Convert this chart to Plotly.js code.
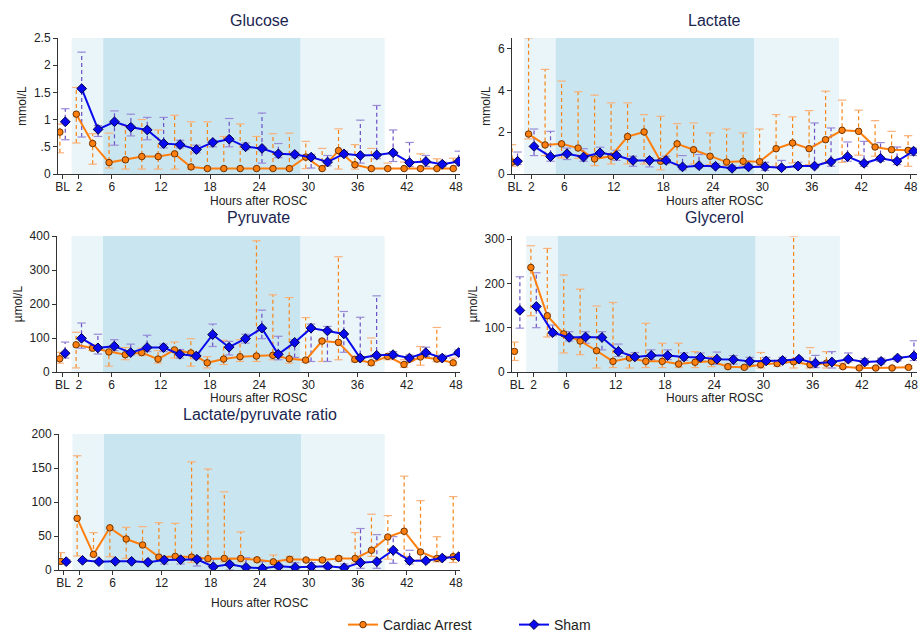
<!DOCTYPE html>
<html><head><meta charset="utf-8">
<script src="https://cdn.plot.ly/plotly-3.0.1.min.js"></script>
<style>html,body{margin:0;padding:0;background:#fff}#chart{width:919px;height:632px}</style>
</head><body><div id="chart"></div>
<script>
// hour 0 = baseline (BL)
const hours = [0,2,4,6,8,10,12,14,16,18,20,22,24,26,28,30,32,34,36,38,40,42,44,46,48];
const tickVals = [0,2,6,12,18,24,30,36,42,48];
const tickText = ["BL","2","6","12","18","24","30","36","42","48"];
const xAxisTitle = 'Hours after ROSC';
const phaseEdges = [1.1, 4.95, 29.05, 39.3];

const glucoseCA   = [0.77,1.10,0.56,0.21,0.26,0.32,0.32,0.37,0.13,0.10,0.10,0.10,0.10,0.10,0.10,0.31,0.10,0.43,0.17,0.10,0.10,0.10,0.10,0.10,0.10];
const glucoseCAHi = [0.92,1.59,0.74,0.75,0.89,1.00,0.81,1.08,0.96,0.96,0.69,0.92,0.69,0.74,0.75,0.60,0.47,0.83,0.54,0.47,0.20,0.22,0.37,0.28,0.29];
const glucoseCALo = [0.39,0.57,0.18,0.11,0.09,0.09,0.09,0.09,0.09,0.09,0.09,0.09,0.09,0.09,0.09,0.10,0.09,0.09,0.09,0.09,0.09,0.09,0.09,0.09,0.09];
const glucoseSh   = [0.96,1.57,0.82,0.96,0.86,0.81,0.56,0.54,0.45,0.58,0.64,0.50,0.47,0.37,0.36,0.31,0.22,0.37,0.34,0.35,0.39,0.21,0.23,0.18,0.23];
const glucoseShHi = [1.20,2.24,0.89,1.16,1.10,1.04,1.04,0.62,0.53,0.62,1.02,0.57,1.12,0.56,0.40,0.36,0.34,0.42,0.99,1.26,0.81,0.58,0.34,0.22,0.42];
const glucoseShLo = [0.63,0.68,0.69,0.53,0.70,0.63,0.48,0.48,0.39,0.50,0.50,0.45,0.20,0.30,0.30,0.11,0.15,0.32,0.20,0.28,0.23,0.14,0.14,0.14,0.15];

const lactateCA   = [0.57,1.91,1.39,1.44,1.24,0.72,0.85,1.79,2.01,0.61,1.44,1.16,0.85,0.57,0.61,0.59,1.21,1.48,1.21,1.64,2.09,2.04,1.29,1.16,1.13];
const lactateCAHi = [1.40,6.50,5.00,4.44,3.93,3.77,3.40,3.40,2.84,2.76,2.41,2.44,1.96,2.15,1.96,2.15,2.84,2.73,3.03,3.96,3.53,3.05,2.55,2.04,1.83];
const lactateCALo = [0.37,1.68,0.88,0.77,0.75,0.40,0.48,0.48,0.48,0.20,0.45,0.48,0.45,0.40,0.40,0.40,0.37,0.53,0.45,0.53,0.56,0.90,0.85,0.69,0.37];
const lactateSh   = [0.61,1.32,0.83,0.97,0.81,1.01,0.88,0.65,0.65,0.65,0.34,0.40,0.37,0.27,0.34,0.35,0.30,0.38,0.38,0.59,0.83,0.51,0.75,0.61,1.09];
const lactateShHi = [1.05,2.15,2.04,1.24,1.21,1.28,1.13,0.85,0.77,0.85,0.88,0.93,0.50,0.40,0.45,0.56,0.65,0.56,2.44,2.20,1.53,1.56,1.50,1.29,1.24];
const lactateShLo = [0.45,0.88,0.61,0.69,0.61,0.85,0.65,0.37,0.34,0.50,0.20,0.30,0.30,0.20,0.27,0.17,0.22,0.30,0.30,0.37,0.61,0.37,0.60,0.45,0.88];

const pyruvateCA   = [39,80,70,59,51,57,38,65,56,27,38,45,47,49,39,35,91,87,37,27,46,22,44,38,27];
const pyruvateCAHi = [58,117,80,75,72,70,63,88,98,45,93,95,386,227,219,160,95,339,46,100,52,36,75,131,41];
const pyruvateCALo = [26,12,63,17,36,48,26,41,17,12,22,31,31,36,26,28,31,36,30,20,36,14,20,30,20];
const pyruvateSh   = [55,99,71,76,57,72,72,52,47,110,73,98,129,52,87,129,121,112,41,49,51,41,57,41,57];
const pyruvateShHi = [88,144,111,95,82,108,82,66,55,141,90,111,182,105,95,141,134,178,161,224,60,50,73,50,65];
const pyruvateShLo = [41,70,53,63,50,60,60,41,39,75,50,85,98,36,43,31,31,58,31,41,43,31,46,31,48];

const glycerolCA   = [46.5,236,127,86,70,48,24,31.5,24,24,18,22,24,12,10.5,16.5,19,23,16.5,20,12,9,9,9,10.5];
const glycerolCAHi = [67.5,285,279,219,187,149,157,40,110,65,65,46,35,18,14,44,26,307,55,46,20,12,12,12,14];
const glycerolCALo = [26,127,79,43,39,9,10,9,10,10,10,10,12,8,8,9,13,9,9,9,8,7,7,7,8];
const glycerolSh   = [139,148,89,78,79,78,46.5,34,37.5,37,34,33,29,28,24,25,26,29,20,22.5,29,22.5,24,31.5,36];
const glycerolShHi = [215,224,106,91,91,91,63,44,50,50,43,43,45,37,33,33,33,33,37.5,46,43,30,31,35,70.5];
const glycerolShLo = [99,100,82,70,65,50,35,28,28,28,26,25,17,18,17,18,20,20,10,9,23,16,18,25,26];

const ratioCA   = [12.7,76,23,62,45.6,36.8,19,20,19,16.7,17,17,15,12,15.7,14.7,14.7,17,17,29,48.5,57,26.5,17,19.6];
const ratioCAHi = [25.5,168,55,62,62.7,63.7,69.6,68.6,159,148.5,115,56,18,22,20,16,18,20,55,82,80,138,102,49,108];
const ratioCALo = [9,20.6,20.6,19.6,17,12,14.7,15,11,12,12,12,12,9,12,12,12,13,10,20,16,20,15,12,11];
const ratioSh   = [12.3,14.2,12.3,12.7,12.7,11.3,14.7,15.2,15.7,4.9,8.3,3.9,2.5,5.4,3.9,4.9,5.4,3.4,10.8,12.3,29,13.7,13.7,17.6,19.6];
const ratioShHi = [15,16,14,14,14,13,18,19.6,19.6,15.7,10,18,12.3,7,10.8,10.8,7,8.8,61,52,49,29,15,20.6,22];
const ratioShLo = [10,12,10,11,11,10,8.8,8.8,5.9,2.5,0,1,0.5,2,1,1,2,1,2.5,2.5,9.8,8.8,11,15,17];

const W = 919, H = 632;
const ORANGE = '#ff7f0e', ORANGE_EDGE = '#6e3300', ORANGE_ERR = '#f7861a', ORANGE_CAP = '#f9b27c';
const BLUE = '#0a0aee', BLUE_EDGE = '#00004a', BLUE_ERR = '#6b4fc4', BLUE_CAP = '#9a8bd8';
const OFF = 0.33;

const panels = [
  {title:'Glucose', px:[58,460], py:[38,174], xr:[-0.56,48.49], yr:[0,2.5], ytv:[0,0.5,1,1.5,2,2.5], ytt:['0','.5','1','1.5','2','2.5'], yt:'mmol/L', ty:21, xty:201,
   ca:glucoseCA, caHi:glucoseCAHi, caLo:glucoseCALo, sh:glucoseSh, shHi:glucoseShHi, shLo:glucoseShLo},
  {title:'Lactate', px:[512,917], py:[38,174], xr:[-0.34,48.75], yr:[0,6.5], ytv:[0,2,4,6], ytt:['0','2','4','6'], yt:'mmol/L', ty:21, xty:201,
   ca:lactateCA, caHi:lactateCAHi, caLo:lactateCALo, sh:lactateSh, shHi:lactateShHi, shLo:lactateShLo},
  {title:'Pyruvate', px:[57,460], py:[236,372], xr:[-0.66,48.5], yr:[0,400], ytv:[0,100,200,300,400], ytt:['0','100','200','300','400'], yt:'µmol/L', ty:217, xty:398,
   ca:pyruvateCA, caHi:pyruvateCAHi, caLo:pyruvateCALo, sh:pyruvateSh, shHi:pyruvateShHi, shLo:pyruvateShLo},
  {title:'Glycerol', px:[512,917], py:[236,372], xr:[-0.63,48.7], yr:[0,307], ytv:[0,100,200,300], ytt:['0','100','200','300'], yt:'µmol/L', ty:217, xty:398,
   ca:glycerolCA, caHi:glycerolCAHi, caLo:glycerolCALo, sh:glycerolSh, shHi:glycerolShHi, shLo:glycerolShLo},
  {title:'Lactate/pyruvate ratio', px:[59,460], py:[434,570], xr:[-0.55,48.5], yr:[0,200], ytv:[0,50,100,150,200], ytt:['0','50','100','150','200'], yt:'', ty:414, xty:603,
   ca:ratioCA, caHi:ratioCAHi, caLo:ratioCALo, sh:ratioSh, shHi:ratioShHi, shLo:ratioShLo}
];

const traces = [], layout = {
  width:W, height:H, margin:{l:0,r:0,t:0,b:0,autoexpand:false}, paper_bgcolor:'#fff', plot_bgcolor:'rgba(0,0,0,0)',
  font:{family:'"Liberation Sans", Arial, sans-serif', size:12, color:'#222'},
  showlegend:true,
  legend:{orientation:'h', x:343/W, xanchor:'left', y:1-625/H, yanchor:'middle', font:{size:14,color:'#222'},
    itemwidth:30, entrywidth:126, entrywidthmode:'pixels', traceorder:'normal', bgcolor:'rgba(0,0,0,0)'},
  shapes:[], annotations:[]
};

function errTrace(xs, lo, hi, color, xa, ya) {
  const x = [], y = [];
  xs.forEach((v,i)=>{ x.push(v, v, null); y.push(lo[i], hi[i], null); });
  return {x, y, xaxis:xa, yaxis:ya, mode:'lines', line:{color, width:1.2, dash:'4px,3px'}, hoverinfo:'skip', showlegend:false};
}
function capTrace(xs, lo, hi, color, xa, ya) {
  return {x:xs.concat(xs), y:hi.concat(lo), xaxis:xa, yaxis:ya, mode:'markers',
    marker:{symbol:'line-ew-open', size:6, color, line:{color, width:1.2}}, hoverinfo:'skip', showlegend:false};
}

panels.forEach((p, k) => {
  const n = k === 0 ? '' : String(k+1);
  const xa = 'x'+n, ya = 'y'+n;
  const dx = [p.px[0]/W, p.px[1]/W], dy = [1-p.py[1]/H, 1-p.py[0]/H];
  layout['xaxis'+n] = {domain:dx, anchor:ya, range:p.xr, tickmode:'array', tickvals:tickVals, ticktext:tickText,
    ticks:'outside', ticklen:4, tickcolor:'#333', showline:true, linecolor:'#333', linewidth:1, showgrid:false, zeroline:false,
    ticklabelstandoff:-2, tickfont:{size:12,color:'#222'}};
  layout['yaxis'+n] = {domain:dy, anchor:xa, range:p.yr, tickmode:'array', tickvals:p.ytv, ticktext:p.ytt,
    ticks:'outside', ticklen:4, tickcolor:'#333', showline:true, linecolor:'#333', linewidth:1, showgrid:false, zeroline:false,
    tickfont:{size:12,color:'#222'}, title:{text:p.yt, font:{size:12,color:'#222'}, standoff:4}};
  const fills = ['#eaf5f9','#c9e6f0','#eaf5f9'];
  for (let j=0;j<3;j++) {
    layout.shapes.push({type:'rect', xref:xa, yref:ya+' domain', x0:phaseEdges[j], x1:phaseEdges[j+1], y0:0, y1:1,
      fillcolor:fills[j], line:{width:0}, layer:'below'});
  }
  layout.annotations.push({text:p.title, xref:'paper', yref:'paper', x:(dx[0]+dx[1])/2, y:1-p.ty/H, xanchor:'center', yanchor:'middle',
    showarrow:false, font:{size:16, color:'#1a2550'}});
  layout.annotations.push({text:xAxisTitle, xref:'paper', yref:'paper', x:(dx[0]+dx[1])/2, y:1-p.xty/H, xanchor:'center', yanchor:'middle',
    showarrow:false, borderpad:0, font:{size:12, color:'#222'}});

  const xCA = hours.map(h=>h-OFF), xSh = hours.map(h=>h+OFF);
  traces.push(errTrace(xCA, p.caLo, p.caHi, ORANGE_ERR, xa, ya));
  traces.push(capTrace(xCA, p.caLo, p.caHi, ORANGE_CAP, xa, ya));
  traces.push(errTrace(xSh, p.shLo, p.shHi, BLUE_ERR, xa, ya));
  traces.push(capTrace(xSh, p.shLo, p.shHi, BLUE_CAP, xa, ya));
  const mCA = {symbol:'circle', size:6.5, color:ORANGE, line:{color:ORANGE_EDGE, width:1}};
  const mSh = {symbol:'diamond', size:7.5, color:BLUE, line:{color:BLUE_EDGE, width:1}};
  traces.push({x:xCA.slice(0,1), y:p.ca.slice(0,1), xaxis:xa, yaxis:ya, mode:'markers', marker:mCA, showlegend:false});
  traces.push({x:xCA.slice(1), y:p.ca.slice(1), xaxis:xa, yaxis:ya, mode:'lines+markers', name:'Cardiac Arrest',
    line:{color:ORANGE, width:2}, marker:mCA, showlegend:k===0, legendgroup:'ca'});
  traces.push({x:xSh.slice(0,1), y:p.sh.slice(0,1), xaxis:xa, yaxis:ya, mode:'markers', marker:mSh, showlegend:false});
  traces.push({x:xSh.slice(1), y:p.sh.slice(1), xaxis:xa, yaxis:ya, mode:'lines+markers', name:'Sham',
    line:{color:BLUE, width:2}, marker:mSh, showlegend:k===0, legendgroup:'sh'});
});

Plotly.newPlot('chart', traces, layout, {displayModeBar:false, staticPlot:true});
</script></body></html>
